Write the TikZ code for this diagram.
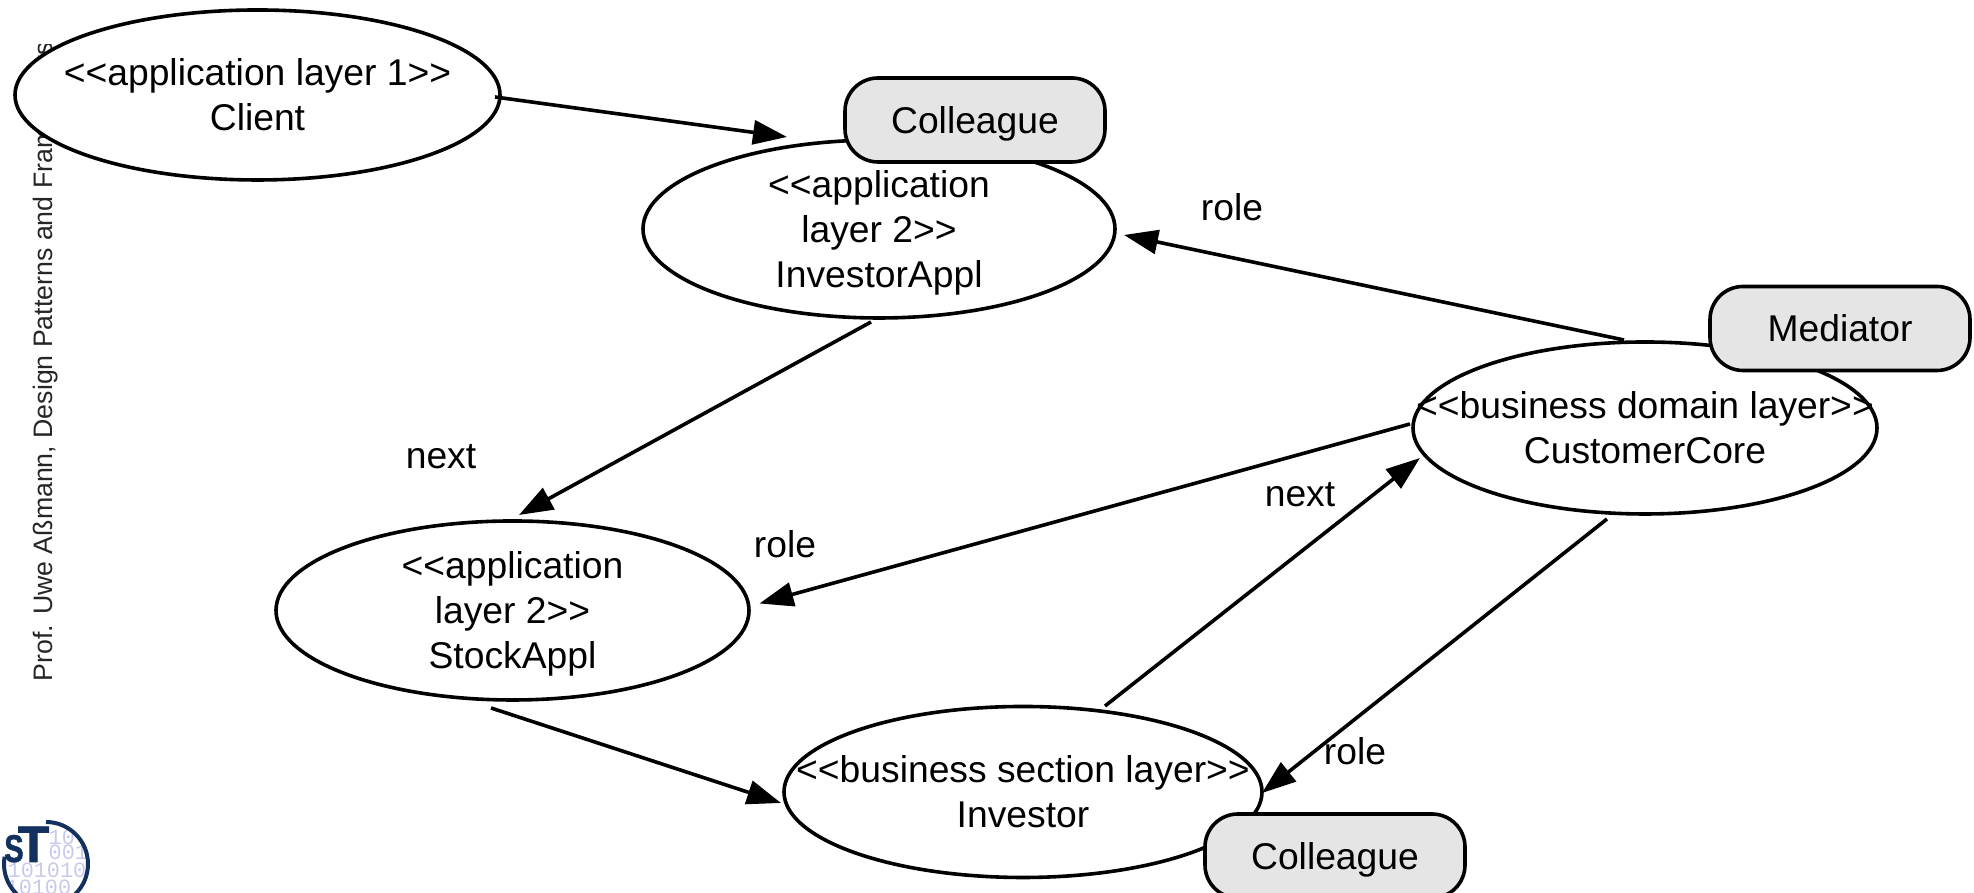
\documentclass[tikz,border=0pt]{standalone}
\usepackage{fontspec}
\setmainfont{Liberation Sans}
\newfontfamily\digitfont{Liberation Mono}
\newfontfamily\logofont[FakeBold=1.5]{Liberation Sans Bold}
\usetikzlibrary{arrows.meta,shapes.geometric}
\definecolor{stblue}{HTML}{12315F}
\definecolor{stdigit}{HTML}{C9C9EE}
\definecolor{rolegray}{HTML}{E5E5E5}
\tikzset{
  layer/.style={draw,ellipse,fill=white,line width=0.036cm,inner sep=0pt},
  layertext/.style={align=center,font=\fontsize{10.6}{12.8}\selectfont,inner sep=0pt},
  rolebox/.style={draw,fill=rolegray,line width=0.036cm,rounded corners=0.33cm,
    minimum width=2.6cm,minimum height=0.84cm,text height=0.265cm,text depth=0pt,
    font=\fontsize{10.6}{12.8}\selectfont,inner sep=0pt},
  linkarrow/.style={line width=0.036cm,-{Triangle[length=0.34cm,width=0.24cm]}},
  linklabel/.style={font=\fontsize{10.6}{12.8}\selectfont,inner sep=0pt},
  digits/.style={text=stdigit,font=\digitfont\fontsize{6.2}{7}\selectfont,inner sep=0pt}
}
\begin{document}
\begin{tikzpicture}
\useasboundingbox (0,0) rectangle (19.74,8.93);

\begin{scope}
\clip (0,0) rectangle (1,8.48);
\node[anchor=base west,rotate=90,inner sep=0pt,text=black!85,font=\fontsize{7.6}{10}\selectfont] (footer) at (0.525,2.11)
 {Prof. Uwe Aßmann, Design Patterns and Frameworks};
\end{scope}

\begin{scope}
\clip (0.46,0.29) circle (0.42);
\node[digits,anchor=west] (row1) at (0.48,0.56) {10};
\node[digits,anchor=west] (row2) at (0.48,0.41) {001};
\node[digits,anchor=west] (row3) at (0.07,0.23) {101010};
\node[digits,anchor=west] (row4) at (0.05,0.06) {10100};
\end{scope}
\draw[stblue,line width=0.04cm] (0.46,0.71) arc (90:-190:0.42);
\node[anchor=base,inner sep=0pt,text=stblue,font=\logofont\fontsize{14.6}{15}\selectfont] (logot) at (0.335,0.31) {T};
\node[anchor=base,inner sep=0pt,text=stblue,xscale=0.75,font=\logofont\fontsize{11}{12}\selectfont] (logos) at (0.14,0.31) {S};

\node[layer,minimum width=4.85cm,minimum height=1.70cm] (client) at (2.575,7.98) {};
\node[layertext] (clienttext) at (client) {<{}<application layer 1>{}>\\Client};

\node[layer,minimum width=4.72cm,minimum height=1.78cm] (investorappl) at (8.79,6.64) {};
\node[layertext] (investorappltext) at ([yshift=-0.04cm]investorappl.center) {<{}<application\\layer 2>{}>\\InvestorAppl};

\node[layer,minimum width=4.73cm,minimum height=1.79cm] (stockappl) at (5.125,2.825) {};
\node[layertext] (stockappltext) at ([yshift=-0.03cm]stockappl.center) {<{}<application\\layer 2>{}>\\StockAppl};

\node[layer,minimum width=4.64cm,minimum height=1.72cm] (customercore) at (16.45,4.65) {};
\node[layertext] (customercoretext) at (customercore) {<{}<business domain layer>{}>\\CustomerCore};

\node[layer,minimum width=4.78cm,minimum height=1.71cm] (investor) at (10.23,1.01) {};
\node[layertext] (investortext) at (investor) {<{}<business section layer>{}>\\Investor};

\draw[linkarrow] ([shift={(2.375,-0.02)}]client.center) to ([shift={(-0.92,0.92)}]investorappl.center);
\draw[linkarrow] ([shift={(-0.21,0.88)}]customercore.center) to ([shift={(2.45,-0.06)}]investorappl.center);
\draw[linkarrow] ([shift={(-0.08,-0.93)}]investorappl.center) to ([shift={(0.065,0.955)}]stockappl.center);
\draw[linkarrow] ([shift={(-2.35,0.04)}]customercore.center) to ([shift={(2.47,0.07)}]stockappl.center);
\draw[linkarrow] ([shift={(0.82,0.86)}]investor.center) to ([shift={(-2.25,-0.30)}]customercore.center);
\draw[linkarrow] ([shift={(-0.38,-0.91)}]customercore.center) to ([shift={(2.39,-0.01)}]investor.center);
\draw[linkarrow] ([shift={(-0.215,-0.975)}]stockappl.center) to ([shift={(-2.42,-0.11)}]investor.center);

\node[rolebox] (colleaguetop) at (9.75,7.73) {Colleague};
\node[rolebox] (mediator) at (18.40,5.645) {Mediator};
\node[rolebox] (colleaguebottom) at (13.35,0.37) {Colleague};

\node[linklabel] (roleone) at (12.32,6.86) {role};
\node[linklabel] (nextone) at (4.41,4.36) {next};
\node[linklabel] (roletwo) at (7.85,3.49) {role};
\node[linklabel] (nexttwo) at (13.00,3.98) {next};
\node[linklabel] (rolethree) at (13.55,1.42) {role};
\end{tikzpicture}
\end{document}
